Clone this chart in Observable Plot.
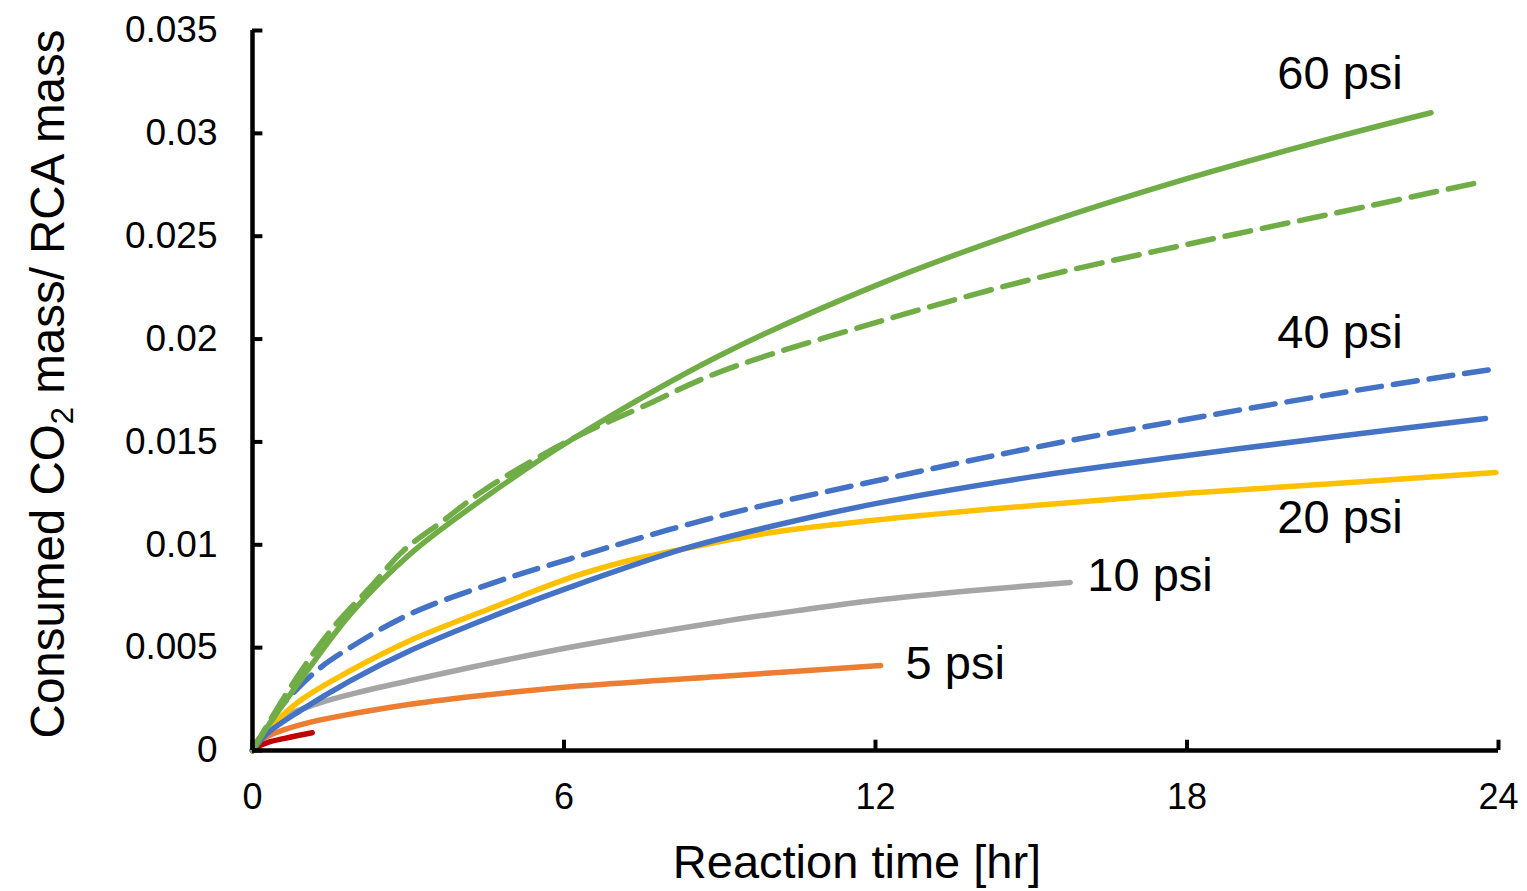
<!DOCTYPE html>
<html>
<head>
<meta charset="utf-8">
<script src="https://cdn.jsdelivr.net/npm/d3@7"></script>
<script src="https://cdn.jsdelivr.net/npm/@observablehq/plot@0.6"></script>
<style>
  html, body { margin: 0; padding: 0; background: #fff; overflow: hidden; }
  #chart svg { display: block; font-family: "Liberation Sans", Arial, sans-serif; }
</style>
</head>
<body>
<div id="chart"></div>
<script>
// ---- data ----
const xTicks = [0, 6, 12, 18, 24];
const yTicks = [0, 0.005, 0.01, 0.015, 0.02, 0.025, 0.03, 0.035];
const yTickLabels = ["0", "0.005", "0.01", "0.015", "0.02", "0.025", "0.03", "0.035"];

const redT = [0, 0.15, 0.3, 0.6, 0.9, 1.15];
const redV = [0, 0.00025, 0.0004, 0.00058, 0.00074, 0.00086];

const orangeT = [0, 0.1, 0.3, 0.6, 1.24, 2, 3.04, 4.5, 6.12, 9, 12.1];
const orangeV = [0, 0.0004, 0.0007, 0.001, 0.00145, 0.00182, 0.00225, 0.0027, 0.0031, 0.0036, 0.00413];

const grayT = [0, 0.1, 0.3, 0.6, 1.24, 2, 3.04, 4.5, 6.12, 9, 10.5, 12, 14, 15.75];
const grayV = [0, 0.0005, 0.001, 0.00162, 0.00227, 0.0028, 0.0034, 0.0042, 0.00502, 0.00625, 0.0068, 0.0073, 0.0078, 0.00817];

const yellowT = [0, 0.35, 0.92, 1.89, 3.04, 4.58, 6.12, 7.2, 8.3, 10, 12, 15, 18, 21, 23.95];
const yellowV = [0, 0.00113, 0.00243, 0.00389, 0.00535, 0.0069, 0.0084, 0.0092, 0.0098, 0.0106, 0.0112, 0.0119, 0.0125, 0.013, 0.01351];

const blueT = [0, 0.28, 0.92, 1.89, 3.04, 4.58, 6.12, 8.3, 10, 12, 15, 18, 21, 23.75];
const blueV = [0, 0.00082, 0.00194, 0.0034, 0.00486, 0.00648, 0.00794, 0.0098, 0.0109, 0.012, 0.0133, 0.01434, 0.0153, 0.01614];

const blueDashT = [0, 0.3, 0.6, 1.24, 1.89, 3.04, 4.58, 6.12, 9, 12, 15, 18, 21, 23.8];
const blueDashV = [0, 0.0012, 0.00228, 0.00389, 0.00502, 0.00664, 0.0081, 0.00932, 0.0114, 0.0131, 0.0147, 0.0161, 0.0174, 0.0185];

const greenDashT = [0, 0.3, 0.92, 1.56, 2.27, 2.91, 3.68, 4.45, 6.12, 7.5, 9, 12, 15, 18, 21, 23.6];
const greenDashV = [0, 0.0013, 0.0038, 0.006, 0.00794, 0.00972, 0.01118, 0.01264, 0.0151, 0.0167, 0.0184, 0.0208, 0.0229, 0.0246, 0.0262, 0.0276];

const greenT = [0, 0.28, 0.92, 1.89, 3.04, 4.58, 6.12, 9, 12, 15, 18, 21, 22.7];
const greenV = [0, 0.00113, 0.0034, 0.00664, 0.00956, 0.01248, 0.01507, 0.0192, 0.0226, 0.0254, 0.0278, 0.0299, 0.031];

const labelText = ["60 psi", "40 psi", "20 psi", "10 psi", "5 psi"];
const labelT = [19.74, 19.74, 19.74, 16.08, 12.58];
const labelV = [0.0329, 0.0203, 0.0113, 0.0085, 0.0042];

// ---- build series ----
const series = [
  {t: redT, v: redV, color: "#C00000", dash: null},
  {t: orangeT, v: orangeV, color: "#ED7D31", dash: null},
  {t: grayT, v: grayV, color: "#A5A5A5", dash: null},
  {t: yellowT, v: yellowV, color: "#FFC000", dash: null},
  {t: blueT, v: blueV, color: "#4472C4", dash: null},
  {t: blueDashT, v: blueDashV, color: "#4472C4", dash: "24,12"},
  {t: greenDashT, v: greenDashV, color: "#70AD47", dash: "26,12"},
  {t: greenT, v: greenV, color: "#70AD47", dash: null}
];

const lineMarks = series.map(s => Plot.line(
  s.t.map((t, i) => ({t, v: s.v[i]})),
  {x: "t", y: "v", stroke: s.color, strokeWidth: 5.5, strokeDasharray: s.dash, strokeLinecap: "round", curve: "catmull-rom"}
));

const labels = labelText.map((text, i) => ({text, t: labelT[i], v: labelV[i]}));

const chart = Plot.plot({
  width: 1527,
  height: 891,
  marginLeft: 252,
  marginRight: 29,
  marginTop: 30,
  marginBottom: 141,
  style: {fontFamily: "Liberation Sans, Arial, sans-serif", background: "#fff", color: "#000"},
  x: {domain: [0, 24]},
  y: {domain: [0, 0.035]},
  marks: [
    Plot.axisX(xTicks, {tickSize: 0, tickPadding: 33, fontSize: 36, label: null, fill: "#000"}),
    Plot.axisY(yTicks, {tickSize: 0, tickPadding: 35, fontSize: 37, label: null, fill: "#000",
      tickFormat: d => yTickLabels[yTicks.indexOf(d)]}),
    ...lineMarks,
    Plot.ruleY(yTicks, {x1: 0, x2: 0.2, stroke: "#000", strokeWidth: 4}),
    Plot.ruleX(xTicks, {y1: 0, y2: 0.0005, stroke: "#000", strokeWidth: 4}),
    Plot.ruleX([0], {y1: 0, y2: 0.035, stroke: "#000", strokeWidth: 4.5}),
    Plot.ruleY([0], {x1: 0, x2: 24, stroke: "#000", strokeWidth: 4.5}),
    Plot.text(labels, {x: "t", y: "v", text: "text", textAnchor: "start", lineAnchor: "middle", fontSize: 47, fill: "#000"})
  ]
});

const svg = d3.select(chart);
// x-axis title
svg.append("text")
  .attr("x", 857).attr("y", 878)
  .attr("text-anchor", "middle")
  .attr("font-size", 47)
  .attr("fill", "#000")
  .text("Reaction time [hr]");
// y-axis title with subscript
const yt = svg.append("text")
  .attr("transform", "translate(64,384) rotate(-90)")
  .attr("text-anchor", "middle")
  .attr("font-size", 47.5)
  .attr("fill", "#000");
yt.append("tspan").text("Consumed CO");
yt.append("tspan").attr("font-size", 31).attr("baseline-shift", "-28%").text("2");
yt.append("tspan").text(" mass/ RCA mass");

document.getElementById("chart").appendChild(chart);
</script>
</body>
</html>
